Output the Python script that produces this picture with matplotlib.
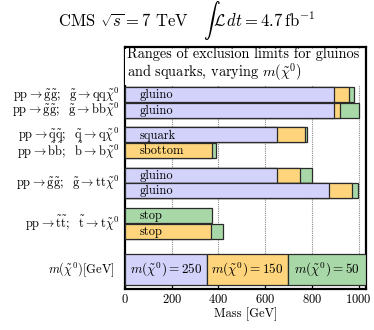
import numpy as np
import matplotlib
matplotlib.use("Agg")
import matplotlib.pyplot as plt

plt.rcParams['mathtext.fontset'] = 'cm'
plt.rcParams['font.family'] = 'serif'
plt.rcParams['font.serif'] = ['cmr10']
plt.rcParams['axes.unicode_minus'] = False
plt.rcParams['axes.formatter.use_mathtext'] = True

# ---- data ----
bar_labels = ["gluino", "gluino", "squark", "sbottom", "gluino", "gluino", "stop", "stop"]
groups = [0, 0, 1, 1, 2, 2, 3, 3]
limit_m250 = [897, 897, 650, np.nan, 650, 873, np.nan, np.nan]
limit_m150 = [959, 921, 769, 371, 750, 971, np.nan, 367]
limit_m50 = [979, 1000, 781, 391, 800, 997, 374, 419]
process_labels = [
    (r"$\mathrm{pp}\rightarrow\tilde{\mathrm{g}}\tilde{\mathrm{g}};\ \ \tilde{\mathrm{g}}\rightarrow\mathrm{qq}\tilde{\chi}^0$", [0]),
    (r"$\mathrm{pp}\rightarrow\tilde{\mathrm{g}}\tilde{\mathrm{g}};\ \ \tilde{\mathrm{g}}\rightarrow\mathrm{bb}\tilde{\chi}^0$", [1]),
    (r"$\mathrm{pp}\rightarrow\tilde{\mathrm{q}}\tilde{\mathrm{q}};\ \ \tilde{\mathrm{q}}\rightarrow\mathrm{q}\tilde{\chi}^0$", [2]),
    (r"$\mathrm{pp}\rightarrow\tilde{\mathrm{b}}\tilde{\mathrm{b}};\ \ \tilde{\mathrm{b}}\rightarrow\mathrm{b}\tilde{\chi}^0$", [3]),
    (r"$\mathrm{pp}\rightarrow\tilde{\mathrm{g}}\tilde{\mathrm{g}};\ \ \tilde{\mathrm{g}}\rightarrow\mathrm{tt}\tilde{\chi}^0$", [4, 5]),
    (r"$\mathrm{pp}\rightarrow\tilde{\mathrm{t}}\tilde{\mathrm{t}};\ \ \tilde{\mathrm{t}}\rightarrow\mathrm{t}\tilde{\chi}^0$", [6, 7]),
]
lsp_masses = [250, 150, 50]
legend_edges = [0, 350, 700]
xticks = [0, 200, 400, 600, 800, 1000]

colors = {250: "#d2d2fa", 150: "#fed57c", 50: "#a8d8a8"}
edge = "#2a2a2a"

# ---- layout ----
fig = plt.figure(figsize=(3.74, 3.30), dpi=100)
ax = fig.add_axes([125/374, 1-289/330, 241/374, (289-46.5)/330])
xmax = 1032
ax.set_xlim(0, xmax)
ax.set_ylim(15.65, 0)

first_top = 2.61
bar_h = 0.97
pitch = 1.0
group_gap = 0.6
centers = []
for i, g in enumerate(groups):
    centers.append(first_top + 0.5 + i * pitch + g * group_gap)

for i, c in enumerate(centers):
    for vals, m in ((limit_m50, 50), (limit_m150, 150), (limit_m250, 250)):
        v = vals[i]
        if not np.isnan(v):
            ax.barh(c, v, height=bar_h, left=0, color=colors[m], edgecolor=edge,
                    linewidth=0.9, zorder=3)
    ax.text(62, c + 0.03, bar_labels[i], va='center', ha='left', fontsize=9, zorder=5)

# legend row
leg_c = 14.42
leg_h = 2.0
right_edges = legend_edges[1:] + [xmax]
for m, l, r in zip(lsp_masses, legend_edges, right_edges):
    ax.barh(leg_c, r - l, left=l, height=leg_h, color=colors[m], edgecolor=edge,
            linewidth=0.9, zorder=3)
    ax.text((l + r) / 2, leg_c, r"$m(\tilde{\chi}^0) = %d$" % m, ha='center', va='center',
            fontsize=9.5, zorder=5)

# process labels on the left
for txt, idx in process_labels:
    y = np.mean([centers[k] for k in idx])
    ax.annotate(txt, xy=(0, y), xycoords=('axes fraction', 'data'), xytext=(-4, 0),
                textcoords='offset points', ha='right', va='center', fontsize=9,
                annotation_clip=False)
ax.annotate(r"$m(\tilde{\chi}^0)[\mathrm{GeV}]$", xy=(0, leg_c), xycoords=('axes fraction', 'data'),
            xytext=(-7.5, 0), textcoords='offset points', ha='right', va='center', fontsize=9,
            annotation_clip=False)

# grid
for t in xticks[1:]:
    ax.axvline(t, color='#888888', linestyle=(0, (1, 1)), linewidth=0.8, zorder=1)

# inner title
ax.text(0.008, 0.997, "Ranges of exclusion limits for gluinos\nand squarks, varying $m(\\tilde{\\chi}^0)$",
        transform=ax.transAxes, ha='left', va='top', fontsize=10.3, linespacing=1.02, zorder=6,
        bbox=dict(facecolor='white', edgecolor='none', pad=1.0))

ax.set_xticks(xticks)
ax.set_yticks([])
ax.tick_params(axis='x', direction='in', length=3, width=0.9, labelsize=9, pad=3)
for s in ax.spines.values():
    s.set_linewidth(1.6)
ax.set_xlabel("Mass [GeV]", fontsize=9, labelpad=1)

fig.text(0.5, 1 - 21/330, r"CMS $\sqrt{s} = 7$ TeV   $\int\mathcal{L}\,dt = 4.7\,\mathrm{fb}^{-1}$",
         ha='center', va='center', fontsize=12)

fig.savefig("out.png", dpi=100)
